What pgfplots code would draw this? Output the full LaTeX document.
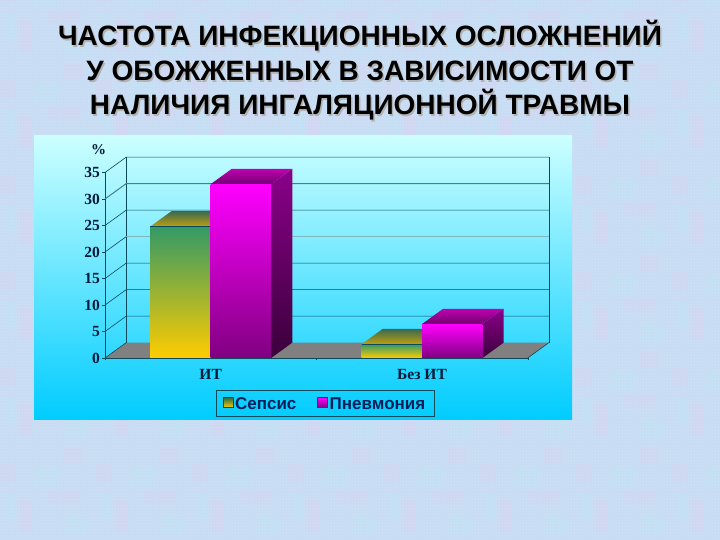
\documentclass[border=0pt]{standalone}
\usepackage{fontspec}
\setmainfont{Liberation Serif}
\newfontfamily\arial{Liberation Sans}
\usepackage{pgfplots}
\usetikzlibrary{patterns}
\pgfplotsset{compat=1.18}
\definecolor{baseBg}{HTML}{C8DCF4}
\definecolor{lilac}{HTML}{DDD0F0}
\definecolor{cyanbg}{HTML}{BEE6F6}
\definecolor{panelTop}{HTML}{CCFFFF}
\definecolor{panelBot}{HTML}{00CCFF}
\definecolor{gridc}{HTML}{0A4A5A}
\definecolor{labelc}{HTML}{001A3A}
\definecolor{legc}{HTML}{00205A}
\definecolor{sepT}{HTML}{339966}
\definecolor{sepB}{HTML}{FFCC00}
\definecolor{sepTopB}{HTML}{C09E10}
\definecolor{sepTopT}{HTML}{3A6A50}
\definecolor{pneT}{HTML}{FF00FF}
\definecolor{pneB}{HTML}{800080}
\definecolor{pneSideT}{HTML}{8A008A}
\definecolor{pneSideB}{HTML}{3A003A}
\definecolor{pneTopT}{HTML}{C000B0}
\definecolor{pneTopB}{HTML}{700070}
\begin{document}
\begin{tikzpicture}[x=1pt,y=1pt]
\fill[baseBg] (0,0) rectangle (720,540);
% mottled tile of the slide background
\begin{pgfinterruptboundingbox}
\begin{scope}
\clip (0,0) rectangle (720,540);
\foreach \i in {0,...,7}{
  \foreach \j in {0,...,5}{
    \begin{scope}[shift={(\i*96,\j*96)}]
      \fill[lilac,opacity=.4] (20,8) rectangle (32,40);
      \fill[lilac,opacity=.3] (0,58) rectangle (16,76);
      \fill[lilac,opacity=.25] (48,36) rectangle (80,50);
      \fill[cyanbg,opacity=.35] (34,50) rectangle (60,74);
      \fill[cyanbg,opacity=.3] (66,4) rectangle (90,26);
      \fill[lilac,opacity=.3] (64,76) rectangle (84,92);
      \fill[cyanbg,opacity=.3] (4,20) rectangle (16,46);
    \end{scope}
  }
}
\fill[pattern=crosshatch dots,pattern color=white,opacity=.18] (0,0) rectangle (720,540);
\end{scope}
\end{pgfinterruptboundingbox}
% chart panel
\shade[top color=panelTop,bottom color=panelBot] (34,120) rectangle (572,404);
% title
\foreach \yy/\tl in {504/{ЧАСТОТА ИНФЕКЦИОННЫХ ОСЛОЖНЕНИЙ},469/{У ОБОЖЖЕННЫХ В ЗАВИСИМОСТИ ОТ},435/{НАЛИЧИЯ ИНГАЛЯЦИОННОЙ ТРАВМЫ}}{
  \node[text=black!30,font=\arial\bfseries\fontsize{28}{30}\selectfont] at (361.5,\yy-1.5) {\tl};
  \node[text=black,font=\arial\bfseries\fontsize{28}{30}\selectfont] at (360,\yy) {\tl};
}
\begin{axis}[
  at={(105pt,182pt)},anchor=south west,
  scale only axis,width=422.7pt,height=185.5pt,
  xmin=-0.5,xmax=1.5,ymin=0,ymax=35,
  clip=false,
  axis lines*=left,
  axis line style={gridc,line width=.6pt,-},
  xtick={0,1},xticklabels={ИТ,Без ИТ},
  minor xtick={-0.5,0.5,1.5},
  ytick={0,5,10,15,20,25,30,35},
  tick align=outside,
  x tick style={draw=none},
  minor x tick style={draw=gridc},
  minor tick length=2.5pt,
  y tick style={gridc,line width=.6pt},
  major tick length=3pt,
  /pgf/number format/assume math mode=true,
  tick label style={text=labelc,font=\bfseries\fontsize{15.5}{16}\selectfont},
  xticklabel style={yshift=-5pt},
  yticklabel style={xshift=1.5pt},
  legend columns=2,
  legend cell align=left,
  legend style={at={(0.5205,-0.2453)},anchor=center,draw=gridc,fill=none,
    font=\arial\bfseries\fontsize{17}{18}\selectfont,text=legc,
    nodes={text height=13.5pt,text depth=1.5pt},
    /tikz/every even column/.append style={column sep=19pt},
    inner xsep=7pt,inner ysep=3.5pt},
]
\addlegendimage{legend image code/.code={\shade[top color=sepT!70!black,bottom color=sepB,draw=gridc,line width=.3pt] (4pt,-4pt) rectangle (14pt,6pt);}}
\addlegendentry{Сепсис}
\addlegendimage{legend image code/.code={\shade[top color=pneT,bottom color=pneB,draw=gridc,line width=.3pt] (4pt,-4pt) rectangle (14pt,6pt);}}
\addlegendentry{Пневмония}
% floor
\addplot[fill=gray,draw=none,forget plot] coordinates {(-0.5,0)(1.5,0)(1.6,2.89)(-0.4,2.89)} -- cycle;
% walls
\addplot[gridc,line width=.6pt,forget plot] coordinates {(-0.4,2.89)(-0.4,37.89)};
\addplot[gridc,line width=.6pt,forget plot] coordinates {(1.6,2.89)(1.6,37.89)};
\addplot[gridc,line width=.6pt,forget plot] coordinates {(1.5,0)(1.6,2.89)};
\addplot[gridc,line width=.6pt,forget plot] coordinates {(-0.5,5)(-0.4,7.89)(1.6,7.89)};
\addplot[gridc,line width=.6pt,forget plot] coordinates {(-0.5,10)(-0.4,12.89)(1.6,12.89)};
\addplot[gridc,line width=.6pt,forget plot] coordinates {(-0.5,15)(-0.4,17.89)(1.6,17.89)};
\addplot[gridc!40!panelTop,line width=.6pt,forget plot] coordinates {(-0.4,22.89)(1.6,22.89)};
\addplot[gridc,line width=.6pt,forget plot] coordinates {(-0.5,20)(-0.4,22.89)};
\addplot[gridc,line width=.6pt,forget plot] coordinates {(-0.5,25)(-0.4,27.89)(1.6,27.89)};
\addplot[gridc!70!panelTop,line width=1pt,forget plot] coordinates {(-0.5,30)(-0.4,32.89)(1.6,32.89)};
\addplot[gridc,line width=.6pt,forget plot] coordinates {(-0.5,35)(-0.4,37.89)(1.6,37.89)};
\addplot[gridc,line width=.6pt,forget plot] coordinates {(-0.5,0)(-0.4,2.89)};
% Сепсис tops
\addplot[draw=none,top color=sepTopT,bottom color=sepTopB,forget plot] coordinates {(-0.286,24.8)(0,24.8)(0.1,27.69)(-0.186,27.69)} -- cycle;
\addplot[draw=none,top color=sepTopT,bottom color=sepTopB,forget plot] coordinates {(0.714,2.6)(1,2.6)(1.1,5.49)(0.814,5.49)} -- cycle;
% Сепсис fronts
\addplot[ybar,bar width=0.286,bar shift=-0.143,draw=none,top color=sepT,bottom color=sepB,forget plot] coordinates {(0,24.8)};
\addplot[ybar,bar width=0.286,bar shift=-0.143,draw=none,top color=sepT,bottom color=sepB,forget plot] coordinates {(1,2.6)};
\addplot[gridc,line width=.6pt,forget plot] coordinates {(-0.286,24.8)(0,24.8)};
\addplot[gridc,line width=.6pt,forget plot] coordinates {(0.714,2.6)(1,2.6)};
% Пневмония sides and tops
\addplot[draw=none,top color=pneSideT,bottom color=pneSideB,forget plot] coordinates {(0.286,0)(0.386,2.89)(0.386,35.69)(0.286,32.8)} -- cycle;
\addplot[draw=none,top color=pneSideT,bottom color=pneSideB,forget plot] coordinates {(1.286,0)(1.386,2.89)(1.386,9.29)(1.286,6.4)} -- cycle;
\addplot[draw=none,top color=pneTopT,bottom color=pneTopB,forget plot] coordinates {(0,32.8)(0.286,32.8)(0.386,35.69)(0.1,35.69)} -- cycle;
\addplot[draw=none,top color=pneTopT,bottom color=pneTopB,forget plot] coordinates {(1,6.4)(1.286,6.4)(1.386,9.29)(1.1,9.29)} -- cycle;
% Пневмония fronts
\addplot[ybar,bar width=0.286,bar shift=0.143,draw=none,top color=pneT,bottom color=pneB,forget plot] coordinates {(0,32.8)};
\addplot[ybar,bar width=0.286,bar shift=0.143,draw=none,top color=pneT,bottom color=pneB,forget plot] coordinates {(1,6.4)};
\node[text=labelc,font=\bfseries\fontsize{15}{16}\selectfont] at (axis cs:-0.53,39.4) {\%};
\end{axis}
\end{tikzpicture}
\end{document}
